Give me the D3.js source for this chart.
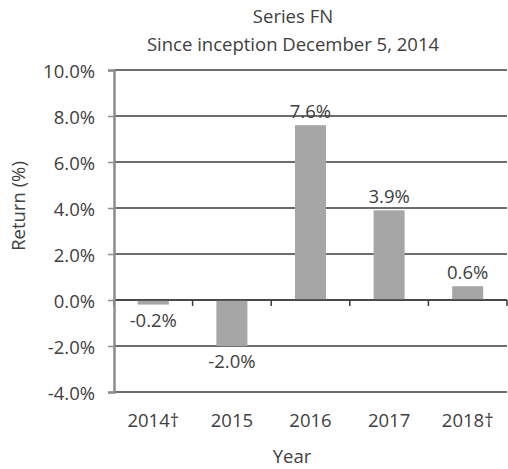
<!DOCTYPE html>
<html>
<head>
<meta charset="utf-8">
<script src="https://cdn.jsdelivr.net/npm/d3@7"></script>
<style>
  html, body { margin: 0; padding: 0; background: #fff; }
  svg { display: block; }
  text { font-family: "Open Sans", sans-serif; fill: #404040; }
</style>
</head>
<body>
<svg id="chart" width="508" height="469"></svg>
<script>
const categories = ["2014\u2020", "2015", "2016", "2017", "2018\u2020"];
const returns = [-0.2, -2.0, 7.6, 3.9, 0.6];
const yTicks = [-4, -2, 0, 2, 4, 6, 8, 10];
const titleLines = ["Series FN", "Since inception December 5, 2014"];
const yAxisTitle = "Return (%)";
const xAxisTitle = "Year";

const svg = d3.select("#chart");
const plotLeft = 114, plotRight = 507, plotTop = 70, plotBottom = 392;
const fs = 18.5;

const x = d3.scaleBand().domain(categories).range([plotLeft, plotRight]).paddingInner(0.605).paddingOuter(0.3025);
const xTickScale = d3.scaleBand().domain(categories).range([plotLeft, plotRight]);
const y = d3.scaleLinear().domain([-4, 10]).range([plotBottom, plotTop]);

// gridlines
svg.append("g").selectAll("line").data(yTicks).join("line")
  .attr("x1", plotLeft).attr("x2", plotRight)
  .attr("y1", d => y(d)).attr("y2", d => y(d))
  .attr("stroke", "#3c3c3c").attr("stroke-width", 1.5);

// bars
svg.append("g").selectAll("rect").data(returns).join("rect")
  .attr("x", (d, i) => x(categories[i]))
  .attr("width", x.bandwidth())
  .attr("y", d => y(Math.max(0, d)))
  .attr("height", d => Math.abs(y(d) - y(0)))
  .attr("fill", "#a6a6a6");

// zero axis line + category ticks
svg.append("line").attr("x1", plotLeft).attr("x2", plotRight).attr("y1", y(0)).attr("y2", y(0))
  .attr("stroke", "#3c3c3c").attr("stroke-width", 1.5);
const tickXs = categories.map(c => xTickScale(c)).concat([plotRight]);
svg.append("g").selectAll("line").data(tickXs).join("line")
  .attr("x1", d => d).attr("x2", d => d)
  .attr("y1", y(0)).attr("y2", y(0) + 6)
  .attr("stroke", "#3c3c3c").attr("stroke-width", 1.5);

// left axis
const yAxis = d3.axisLeft(y).tickValues(yTicks).tickSize(6).tickPadding(13)
  .tickFormat(d => d.toFixed(1) + "%");
const ya = svg.append("g").attr("transform", `translate(${plotLeft},0)`).call(yAxis);
ya.select(".domain").attr("stroke", "#8c8c8c").attr("stroke-width", 2.5);
ya.selectAll(".tick line").attr("stroke", "#8c8c8c").attr("stroke-width", 1.5);
ya.selectAll(".tick text").attr("font-size", fs).attr("fill", "#404040")
  .attr("font-family", "Open Sans, sans-serif").attr("dy", "0.38em");

// x labels
svg.append("g").selectAll("text").data(categories).join("text")
  .attr("x", d => xTickScale(d) + xTickScale.bandwidth() / 2)
  .attr("y", 427).attr("text-anchor", "middle").attr("font-size", fs)
  .text(d => d);

// value labels
svg.append("g").selectAll("text").data(returns).join("text")
  .attr("x", (d, i) => x(categories[i]) + x.bandwidth() / 2)
  .attr("y", d => d >= 0 ? y(d) - 7 : y(d) + 22)
  .attr("text-anchor", "middle").attr("font-size", fs)
  .text(d => d.toFixed(1) + "%");

// titles
svg.append("g").selectAll("text").data(titleLines).join("text")
  .attr("x", 293).attr("y", (d, i) => i === 0 ? 23 : 51)
  .attr("text-anchor", "middle").attr("font-size", fs)
  .text(d => d);

svg.append("text").attr("x", 292).attr("y", 463).attr("text-anchor", "middle")
  .attr("font-size", fs).text(xAxisTitle);

svg.append("text").attr("transform", "translate(25,206) rotate(-90)")
  .attr("text-anchor", "middle").attr("font-size", fs).text(yAxisTitle);
</script>
</body>
</html>
